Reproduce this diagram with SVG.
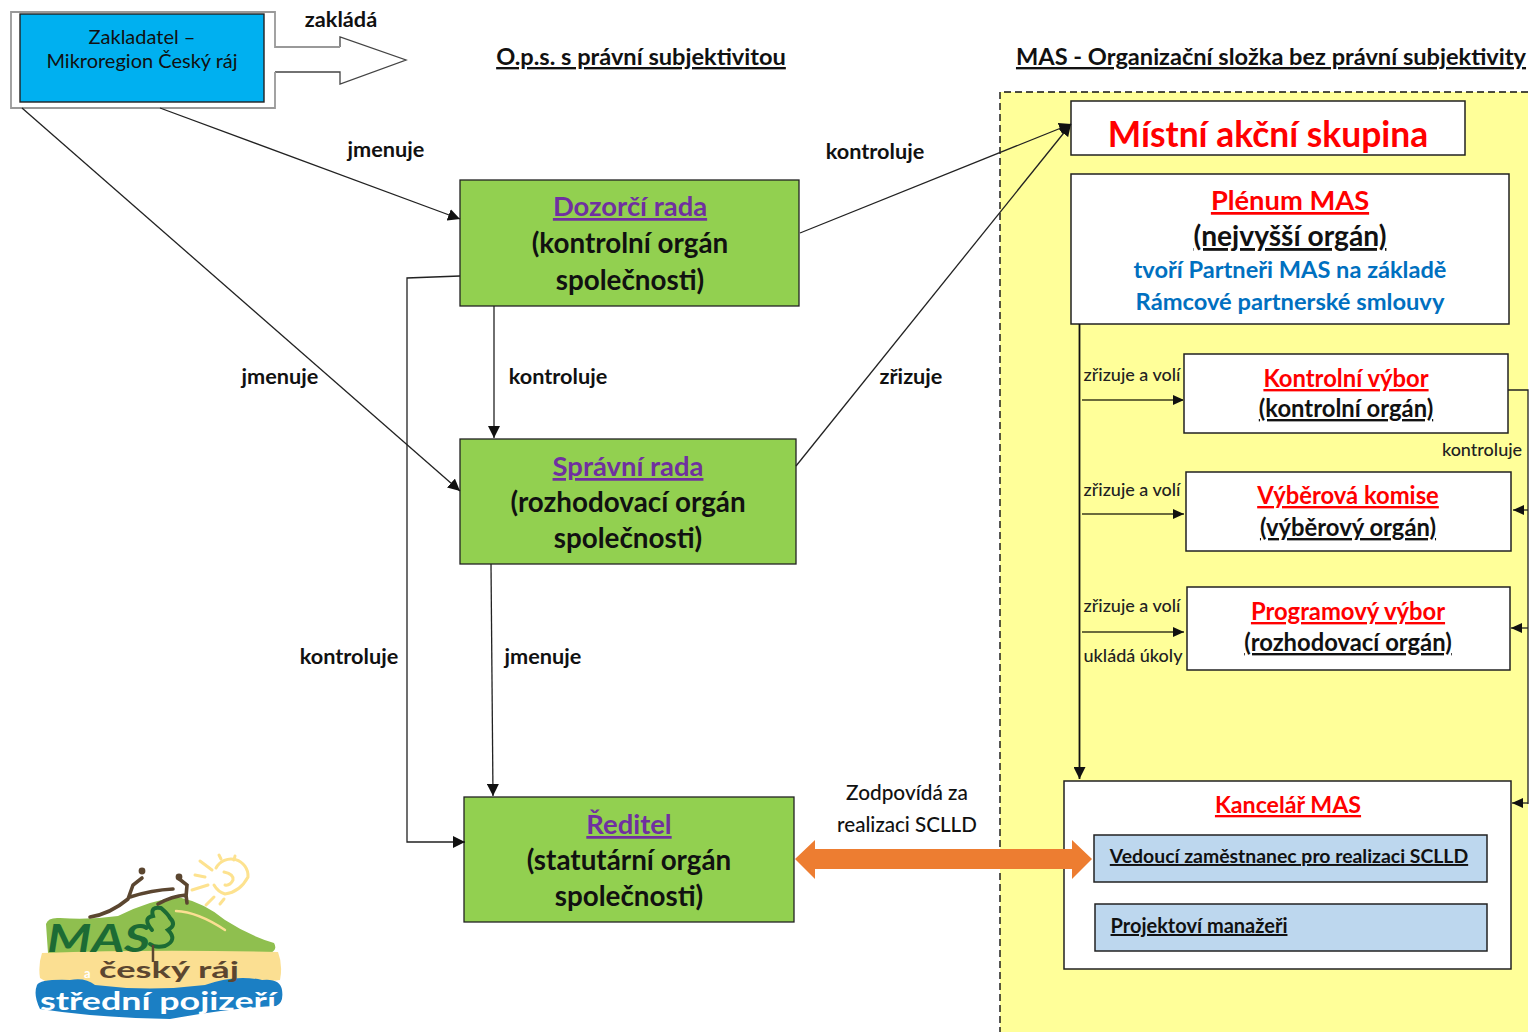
<svg xmlns="http://www.w3.org/2000/svg" width="1529" height="1032" viewBox="0 0 1529 1032">
<defs>
<marker id="ah" markerUnits="userSpaceOnUse" markerWidth="14" markerHeight="12" refX="12" refY="6" orient="auto"><path d="M0 0L12 6L0 12Z" fill="#111"/></marker>
<marker id="ahs" markerUnits="userSpaceOnUse" markerWidth="12" markerHeight="10" refX="11" refY="5" orient="auto"><path d="M0 0L11 5L0 10Z" fill="#111"/></marker>
</defs>
<style>
text{font-family:Lato,"Open Sans","Liberation Sans",sans-serif;text-anchor:middle;fill:#111}
.lbl{font-size:21.7px;font-weight:700}
.sm{font-size:18px;font-weight:500;fill:#222}
.g{fill:#92d050;stroke:#222;stroke-width:1.3}
.w{fill:#fff;stroke:#222;stroke-width:1.5}
.bl{fill:#bdd7ee;stroke:#222;stroke-width:1.5}
.c{fill:none;stroke:#222;stroke-width:1.3}
.o{fill:none;stroke:#6b6b3c;stroke-width:1.8}
.t{font-size:27.4px;font-weight:700;fill:#7030a0;text-decoration:underline}
.s{font-size:27.8px;font-weight:700}
.r{fill:#f00;font-weight:700;text-decoration:underline}
.u{text-decoration:underline;font-weight:700}
.sub{font-size:23.8px}
.logo{font-weight:700;text-anchor:start}
</style>
<rect width="1529" height="1032" fill="#fff"/>
<path d="M1528 92H1000V1032H1528Z" fill="#ffff99" stroke="none"/>
<path d="M1528 92H1000V1032" fill="none" stroke="#111" stroke-width="1.4" stroke-dasharray="7 4"/>

<g id="zakladatel">
<path d="M11 12H275V47H340V37L406 60L340 84V72H275V108H11Z" fill="#fff" stroke="none"/>
<path d="M340 47V37L406 60L340 84V72H275" fill="none" stroke="#444" stroke-width="1.3"/>
<path d="M340 47H275V12H11V108H275V72" fill="none" stroke="#999" stroke-width="1.8"/>
<rect x="20" y="14" width="244" height="88" fill="#00b0f0" stroke="#222" stroke-width="1.4"/>
<text x="142" y="44" font-size="20">Zakladatel –</text>
<text x="142" y="68" font-size="20">Mikroregion Český ráj</text>
</g>

<text class="lbl" x="341" y="27">zakládá</text>
<text class="u" x="641" y="65" font-size="23.6">O.p.s. s právní subjektivitou</text>
<text class="u" x="1271" y="65" font-size="23.6">MAS  - Organizační složka bez právní subjektivity</text>
<text class="lbl" x="386" y="157">jmenuje</text>
<text class="lbl" x="280" y="384">jmenuje</text>
<text class="lbl" x="875" y="159">kontroluje</text>
<text class="lbl" x="558" y="384">kontroluje</text>
<text class="lbl" x="911" y="384">zřizuje</text>
<text class="lbl" x="349" y="664">kontroluje</text>
<text class="lbl" x="543" y="664">jmenuje</text>
<text x="907" y="800" font-size="20.8" font-weight="500">Zodpovídá za</text>
<text x="907" y="832" font-size="20.6" font-weight="500">realizaci SCLLD</text>

<g id="dozorci-rada">
<rect class="g" x="460" y="180" width="339" height="126"/>
<text class="t" x="630" y="216">Dozorčí rada</text>
<text class="s" x="630" y="253">(kontrolní orgán</text>
<text class="s" x="630" y="290">společnosti)</text>
</g>
<g id="spravni-rada">
<rect class="g" x="460" y="439" width="336" height="125"/>
<text class="t" x="628" y="476">Správní rada</text>
<text class="s" x="628" y="512">(rozhodovací orgán</text>
<text class="s" x="628" y="548">společnosti)</text>
</g>
<g id="reditel">
<rect class="g" x="464" y="797" width="330" height="125"/>
<text class="t" x="629" y="834">Ředitel</text>
<text class="s" x="629" y="870">(statutární orgán</text>
<text class="s" x="629" y="906">společnosti)</text>
</g>

<g id="mistni-akcni-skupina">
<rect class="w" x="1071" y="101" width="394" height="54"/>
<text x="1268" y="147" font-size="35.4" font-weight="700" style="fill:#f00">Místní akční skupina</text>
</g>
<g id="plenum">
<rect class="w" x="1071" y="174" width="438" height="150"/>
<text class="r" x="1290" y="210" font-size="27.3" style="fill:#f00">Plénum MAS</text>
<text class="u" x="1290" y="246" font-size="28.2">(nejvyšší orgán)</text>
<text x="1290" y="278" font-size="23.6" font-weight="700" style="fill:#0070c0">tvoří Partneři MAS na základě</text>
<text x="1290" y="310" font-size="23.7" font-weight="700" style="fill:#0070c0">Rámcové partnerské smlouvy</text>
</g>
<g id="kontrolni-vybor">
<rect class="w" x="1184" y="354" width="324" height="79"/>
<text class="r sub" x="1346" y="387" style="fill:#f00">Kontrolní výbor</text>
<text class="u sub" x="1346" y="417">(kontrolní orgán)</text>
</g>
<g id="vyberova-komise">
<rect class="w" x="1186" y="472" width="325" height="79"/>
<text class="r sub" x="1348" y="504" style="fill:#f00">Výběrová komise</text>
<text class="u sub" x="1348" y="536">(výběrový orgán)</text>
</g>
<g id="programovy-vybor">
<rect class="w" x="1187" y="587" width="323" height="83"/>
<text class="r sub" x="1348" y="620" style="fill:#f00">Programový výbor</text>
<text class="u sub" x="1348" y="651">(rozhodovací orgán)</text>
</g>
<text class="sm" x="1132" y="381">zřizuje a volí</text>
<text class="sm" x="1132" y="496">zřizuje a volí</text>
<text class="sm" x="1132" y="612">zřizuje a volí</text>
<text class="sm" x="1133" y="662">ukládá úkoly</text>
<text class="sm" x="1482" y="456">kontroluje</text>

<g id="kancelar">
<rect class="w" x="1064" y="781" width="447" height="188"/>
<text class="r" x="1288" y="813" font-size="23.2" style="fill:#f00">Kancelář MAS</text>
<rect class="bl" x="1094" y="835" width="393" height="47"/>
<text class="u" x="1289" y="863" font-size="19.4">Vedoucí zaměstnanec pro realizaci SCLLD</text>
<rect class="bl" x="1095" y="904" width="392" height="47"/>
<text class="u" x="1199" y="933" font-size="20">Projektoví manažeři</text>
</g>

<g id="connectors">
<path class="c" d="M160 108L460 219" marker-end="url(#ah)"/>
<path class="c" d="M22 108L460 491" marker-end="url(#ah)"/>
<path class="c" d="M800 233L1071 124" marker-end="url(#ah)"/>
<path class="c" d="M796 466L1071 124" marker-end="url(#ah)"/>
<path class="c" d="M494 306V438" marker-end="url(#ah)"/>
<path class="c" d="M491 564L493 796" marker-end="url(#ah)"/>
<path class="c" d="M460 276L407 278V842H465" marker-end="url(#ah)"/>
<path class="c" d="M1079.500 324V779" style="stroke-width:1.8;stroke:#111" marker-end="url(#ah)"/>
<path class="o" d="M1082 400H1184" marker-end="url(#ahs)"/>
<path class="o" d="M1082 514H1184" marker-end="url(#ahs)"/>
<path class="o" d="M1082 632H1184" marker-end="url(#ahs)"/>
<path class="c" d="M1508 390H1528V804"/>
<path class="c" d="M1528 510L1513 510" marker-end="url(#ahs)"/>
<path class="c" d="M1528 628L1511 628" marker-end="url(#ahs)"/>
<path class="c" d="M1528 803L1512 803" marker-end="url(#ahs)"/>
<path d="M795 859L815 840V849H1072V840L1092 859L1072 879V869H815V879Z" fill="#ed7d31"/>
</g>

<g id="logo">
<path d="M46 924Q48 917 60 918Q90 920 118 916Q150 900 178 897Q205 903 225 920Q250 936 274 943Q278 950 270 953H48Z" fill="#8fbf4f"/>
<path d="M42 953Q150 949 278 952Q283 965 280 980L200 990H60L40 978Q38 965 42 953Z" fill="#fbdf92"/>
<path d="M37 985Q40 979 70 980Q85 977 95 985Q150 992 205 985Q235 974 262 980Q280 978 282 990Q284 1003 276 1006Q230 1008 170 1019Q100 1018 40 1009Q33 995 37 985Z" fill="#1b7fc4"/>
<path d="M90 917Q110 914 128 899L133 885L142 878M130 897Q152 890 173 889M158 904Q172 896 186 895L187 903M186 897L187 885L178 878" fill="none" stroke="#5b4630" stroke-width="3.6" stroke-linecap="round"/>
<circle cx="142" cy="871" r="3.4" fill="#5b4630"/><circle cx="179" cy="877" r="3.4" fill="#5b4630"/>
<path d="M176 911Q198 912 225 930" fill="none" stroke="#fbdf92" stroke-width="2.4" stroke-linecap="round"/>
<path d="M216 868A17 17 0 0 1 248 877Q240 892 225 894Q218 892 214 885M224 872Q234 874 233 880Q230 886 225 885" fill="none" stroke="#fde28f" stroke-width="3" stroke-linecap="round"/>
<path d="M200 861L212 870M195 875L205 877M192 890L208 885M206 905L214 897M220 904L224 899M219 855L221 859M235 856L234 860" fill="none" stroke="#fde28f" stroke-width="3" stroke-linecap="round"/>
<path d="M152 930Q142 918 153 916Q150 906 161 908Q168 914 170 918Q177 925 168 930Q178 940 165 946Q155 948 150 944" fill="none" stroke="#1c6b34" stroke-width="4" stroke-linecap="round"/>
<path d="M153 945V962" stroke="#5b4630" stroke-width="2.500"/>
<text class="logo" x="47" y="952" font-size="38" font-weight="900" font-style="italic" style="fill:#1c6b34" textLength="103" lengthAdjust="spacingAndGlyphs">MAS</text>
<text class="logo" x="99" y="978" font-size="22" style="fill:#5b4630" textLength="140" lengthAdjust="spacingAndGlyphs">český ráj</text>
<text class="logo" x="84" y="978" font-size="13" style="fill:#fff">a</text>
<text class="logo" x="40" y="1010" font-size="25" style="fill:#fff" textLength="236" lengthAdjust="spacingAndGlyphs">střední pojizeří</text>
</g>
</svg>
